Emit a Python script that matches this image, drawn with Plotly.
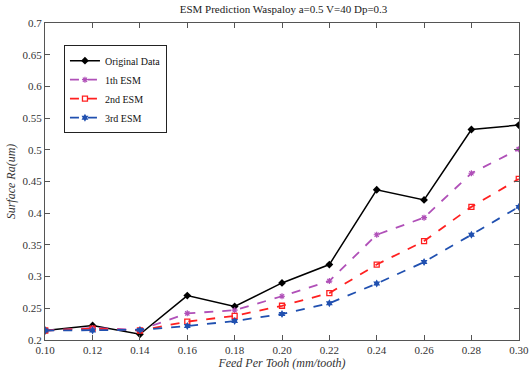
import plotly.graph_objects as go

feed = [0.10, 0.12, 0.14, 0.16, 0.18, 0.20, 0.22, 0.24, 0.26, 0.28, 0.30]
original = [0.215, 0.223, 0.209, 0.270, 0.253, 0.290, 0.319, 0.437, 0.421, 0.532, 0.539]
esm1 = [0.215, 0.219, 0.216, 0.242, 0.247, 0.269, 0.293, 0.366, 0.393, 0.463, 0.501]
esm2 = [0.215, 0.218, 0.215, 0.229, 0.238, 0.254, 0.274, 0.319, 0.356, 0.410, 0.454]
esm3 = [0.215, 0.215, 0.216, 0.222, 0.230, 0.241, 0.258, 0.289, 0.323, 0.366, 0.410]
x_ticks = [0.10, 0.12, 0.14, 0.16, 0.18, 0.20, 0.22, 0.24, 0.26, 0.28, 0.30]
y_ticks = [0.2, 0.25, 0.3, 0.35, 0.4, 0.45, 0.5, 0.55, 0.6, 0.65, 0.7]

FONT = "Liberation Serif"

fig = go.Figure()
fig.add_trace(go.Scatter(x=feed, y=original, name="Original Data", mode="lines+markers",
                         line=dict(color="black", width=1.5),
                         marker=dict(symbol="diamond", size=6, color="black")))
fig.add_trace(go.Scatter(x=feed, y=esm1, name="1th ESM", mode="lines+markers",
                         line=dict(color="#b050b8", width=1.8, dash="dash"),
                         marker=dict(symbol="asterisk-open", size=5, color="#b050b8", line=dict(width=1.2, color="#b050b8"))))
fig.add_trace(go.Scatter(x=feed, y=esm2, name="2nd ESM", mode="lines+markers",
                         line=dict(color="#ff2020", width=1.8, dash="dash"),
                         marker=dict(symbol="square-open", size=5, color="#ff2020", line=dict(width=1.3))))
fig.add_trace(go.Scatter(x=feed, y=esm3, name="3rd ESM", mode="lines+markers",
                         line=dict(color="#2050b0", width=1.8, dash="dash"),
                         marker=dict(symbol="hexagram", size=6, color="#2050b0")))

axis_common = dict(showline=True, linecolor="#555", linewidth=1, mirror="ticks",
                   ticks="inside", ticklen=5, tickcolor="#555", showgrid=False, zeroline=False,
                   ticklabeloverflow="allow", automargin=False,
                   tickfont=dict(family=FONT, size=11, color="#333"))

fig.update_layout(
    width=530, height=370,
    margin=dict(l=45, r=11, t=23, b=30),
    paper_bgcolor="white", plot_bgcolor="white",
    title=dict(text="ESM Prediction Waspaloy a=0.5 V=40 Dp=0.3", x=0.535, xanchor="center",
               y=0.985, yanchor="top", font=dict(family=FONT, size=11, color="#222")),
    xaxis=dict(range=[0.0999, 0.3001], tickvals=x_ticks, ticktext=[f"{v:.2f}" for v in x_ticks],
               title=dict(text="<i>Feed Per Tooh (mm/tooth)</i>", standoff=2,
                          font=dict(family=FONT, size=12, color="#333")), **axis_common),
    yaxis=dict(range=[0.2, 0.7], tickvals=y_ticks, ticktext=[f"{v:g}" for v in y_ticks],
               title=dict(text="<i>Surface Ra(um)</i>", standoff=4,
                          font=dict(family=FONT, size=12, color="#333")), **axis_common),
    legend=dict(x=0.04, y=0.93, xanchor="left", yanchor="top", bgcolor="white",
                bordercolor="#222", borderwidth=1, font=dict(family=FONT, size=10, color="#111"),
                tracegroupgap=0, itemwidth=30),
    showlegend=True,
)

fig.write_html("out.html")
